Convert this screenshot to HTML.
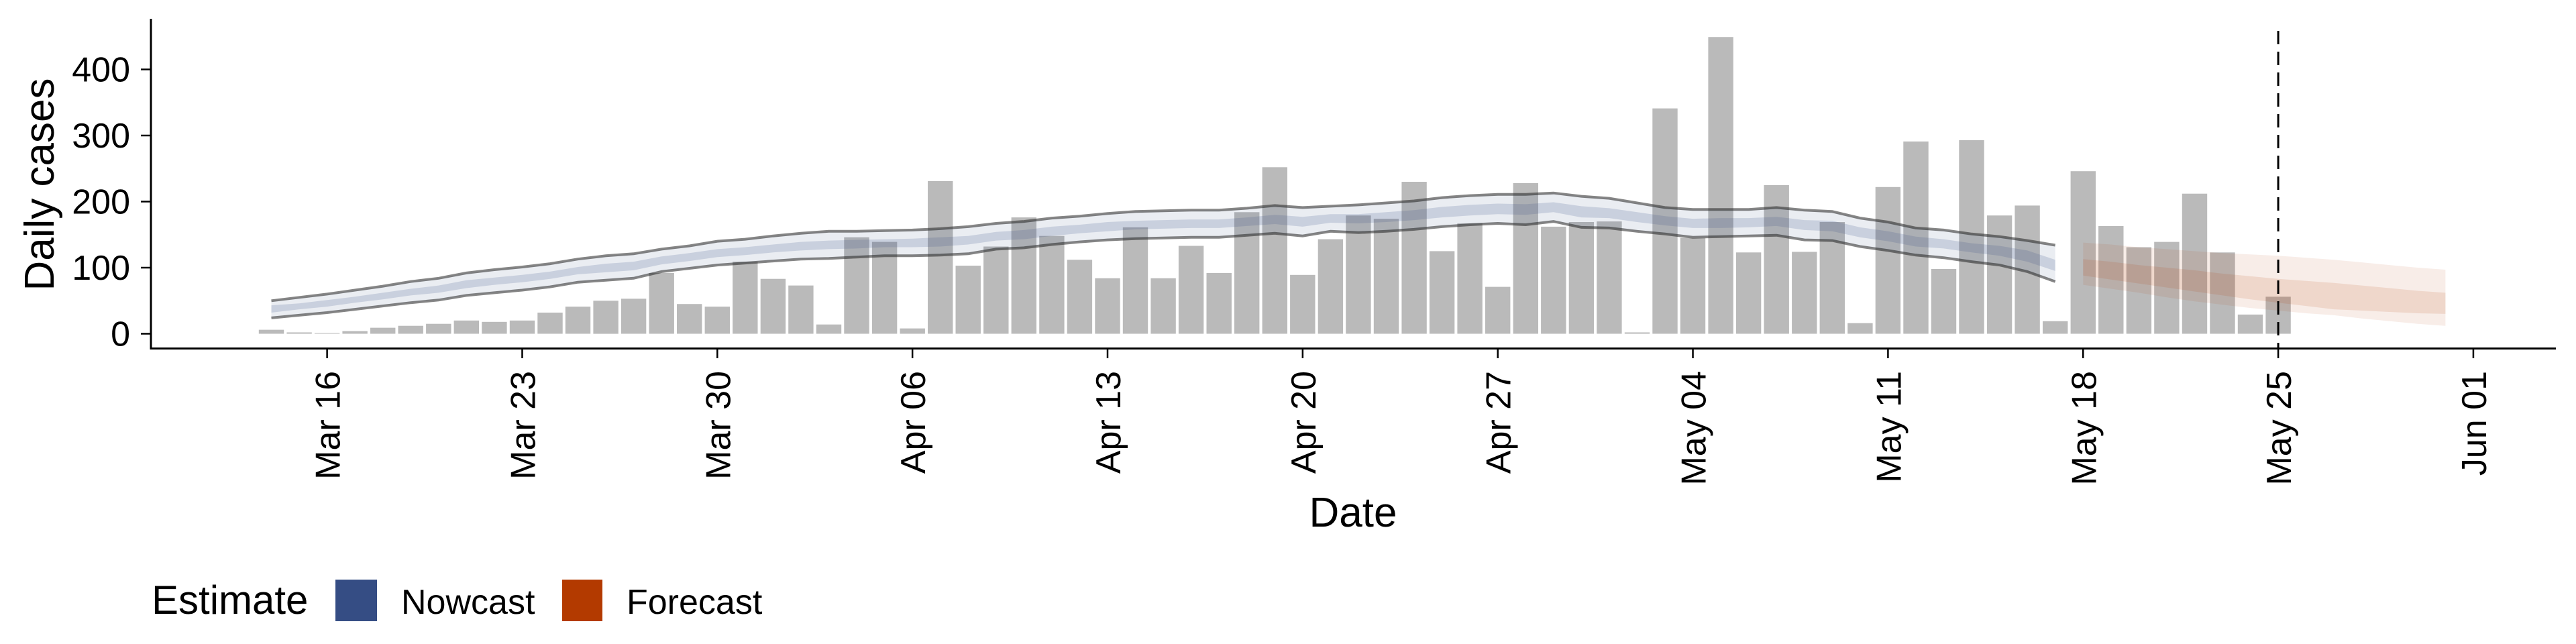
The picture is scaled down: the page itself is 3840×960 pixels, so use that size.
<!DOCTYPE html>
<html><head><meta charset="utf-8"><style>
html,body{margin:0;padding:0;background:#fff;}
svg{display:block;font-family:"Liberation Sans",Arial,sans-serif;}
</style></head><body>
<svg id="chart" width="3840" height="960" viewBox="0 0 3840 960" xmlns="http://www.w3.org/2000/svg">
<g id="bands-now"></g>
<g id="bars"></g>
<g id="bands-fc"></g>
<g id="overlay"></g>
<g id="axes"></g>
<text x="0" y="0" transform="translate(80,275) rotate(-90)" font-size="62" text-anchor="middle">Daily cases</text>
<text x="2017" y="785" font-size="62" text-anchor="middle">Date</text>
<g>
<text x="226" y="915" font-size="60">Estimate</text>
<rect x="500" y="864" width="62" height="62" fill="#354d84"/>
<text x="598" y="915" font-size="52">Nowcast</text>
<rect x="838" y="864" width="60" height="62" fill="#b33a00"/>
<text x="934" y="915" font-size="52">Forecast</text>
</g>
</svg>
<script>
// Data: day index 0 = Mar 14
const cases = [6,2,1,4,9,12,15,20,18,20,32,41,50,53,92,45,41,109,83,73,14,146,139,8,231,103,132,176,148,112,84,161,84,133,92,184,252,89,143,179,174,230,125,167,71,228,162,169,170,2,341,145,449,123,225,124,169,16,222,291,98,293,179,194,19,246,163,131,139,212,123,29,56];
const nowHi90 = [50,55,60,66,72,79,84,92,97,101,106,113,118,121,128,133,140,143,148,152,155,155,156,157,159,162,167,170,175,178,182,185,186,187,187,190,194,191,193,195,198,201,206,209,211,211,213,208,205,198,191,188,188,188,191,187,185,175,169,160,157,151,147,141,134];
const nowLo90 = [24,28,32,37,42,47,51,58,62,66,71,78,81,84,94,99,104,107,110,113,114,116,118,118,119,121,128,130,135,139,142,144,145,146,146,149,152,148,155,153,155,158,162,165,167,165,170,161,160,155,151,146,147,148,149,142,141,132,126,119,115,109,104,94,79];
const nowHi50 = [43,46,51,56,62,68,73,81,85,89,94,101,106,109,117,122,128,131,135,139,141,142,143,144,146,148,154,157,162,165,169,171,172,173,173,176,180,177,181,181,184,187,192,195,197,196,199,193,190,184,178,174,175,175,177,172,171,161,155,147,143,137,133,126,112];
const nowLo50 = [32,37,41,47,52,58,62,69,74,78,83,90,93,96,105,110,116,119,123,126,128,129,131,131,132,135,141,143,148,152,155,158,159,160,160,163,166,162,168,167,169,172,176,179,181,180,184,176,175,169,164,160,160,161,163,157,155,146,140,132,129,123,118,109,95];
const fcStart = 65;
const fcHi90 = [138,135,131,128,125,122,120,118,115,112,108,104,100,97];
const fcLo90 = [74,68,62,55,49,44,39,35,31,28,23,19,15,12];
const fcHi50 = [113,109,104,100,96,91,87,83,80,77,73,69,65,62];
const fcLo50 = [88,82,76,70,64,58,52,47,42,37,35,33,31,30];
const yTicks = [0,100,200,300,400];
const xTickDays = [2,9,16,23,30,37,44,51,58,65,72,79];
const xTickLabels = ["Mar 16","Mar 23","Mar 30","Apr 06","Apr 13","Apr 20","Apr 27","May 04","May 11","May 18","May 25","Jun 01"];
const nowcastDay = 72;

const NS = "http://www.w3.org/2000/svg";
const X0 = 404.5, DX = 41.55, Y0 = 497.5, DY = 0.985;
function xs(d){return X0 + DX*d;}
function ys(v){return Y0 - DY*v;}
function mk(tag, attrs, parent){const e=document.createElementNS(NS,tag);for(const k in attrs)e.setAttribute(k,attrs[k]);parent.appendChild(e);return e;}

function bandPath(hi, lo, start){
  let p = "";
  hi.forEach((v,i)=>{p += (i?"L":"M") + xs(start+i).toFixed(1) + "," + ys(v).toFixed(1);});
  for(let i=lo.length-1;i>=0;i--){p += "L" + xs(start+i).toFixed(1) + "," + ys(lo[i]).toFixed(1);}
  return p + "Z";
}
function linePath(arr, start){
  return arr.map((v,i)=>(i?"L":"M")+xs(start+i).toFixed(1)+","+ys(v).toFixed(1)).join("");
}

const gB = document.getElementById("bars");
cases.forEach((v,i)=>{
  const r = mk("rect",{x:(xs(i)-18.7).toFixed(1),y:ys(v).toFixed(1),width:37.4,height:(DY*v).toFixed(1),fill:"#bababa"},gB);
  
  
});

const gN = document.getElementById("overlay");
const n90 = mk("path",{d:bandPath(nowHi90,nowLo90,0),fill:"#354d84","fill-opacity":0.1},gN);


const n50 = mk("path",{d:bandPath(nowHi50,nowLo50,0),fill:"#354d84","fill-opacity":0.18},gN);


const lu = mk("path",{d:linePath(nowHi90,0),fill:"none",stroke:"#222","stroke-opacity":0.55,"stroke-width":4},gN);


const ll = mk("path",{d:linePath(nowLo90,0),fill:"none",stroke:"#222","stroke-opacity":0.55,"stroke-width":4},gN);



const gF = document.getElementById("bands-fc");
const f90 = mk("path",{d:bandPath(fcHi90,fcLo90,fcStart),fill:"#b33a00","fill-opacity":0.09},gF);


const f50 = mk("path",{d:bandPath(fcHi50,fcLo50,fcStart),fill:"#b33a00","fill-opacity":0.12},gF);



const gA = document.getElementById("axes");
const vl = mk("line",{x1:xs(nowcastDay),x2:xs(nowcastDay),y1:46,y2:520,stroke:"#000","stroke-width":3,"stroke-dasharray":"20 11"},gA);


const ya = mk("line",{x1:225,x2:225,y1:28,y2:521,stroke:"#000","stroke-width":3},gA);


const xa = mk("line",{x1:224,x2:3810,y1:519.5,y2:519.5,stroke:"#000","stroke-width":3},gA);


yTicks.forEach(v=>{
  const t = mk("line",{x1:210,x2:225,y1:ys(v),y2:ys(v),stroke:"#000","stroke-width":2.5},gA);
  
  
  const l = mk("text",{x:194,y:ys(v)+18,"font-size":52,"text-anchor":"end"},gA);
  l.textContent = v;
  
  
});
xTickDays.forEach((d,i)=>{
  const x = xs(d);
  const t = mk("line",{x1:x,x2:x,y1:519,y2:534,stroke:"#000","stroke-width":2.5},gA);
  
  
  const l = mk("text",{x:0,y:0,"font-size":52,"text-anchor":"end",transform:"translate("+(x+19)+",553) rotate(-90)"},gA);
  l.textContent = xTickLabels[i];
  
  
});
</script>
</body></html>
